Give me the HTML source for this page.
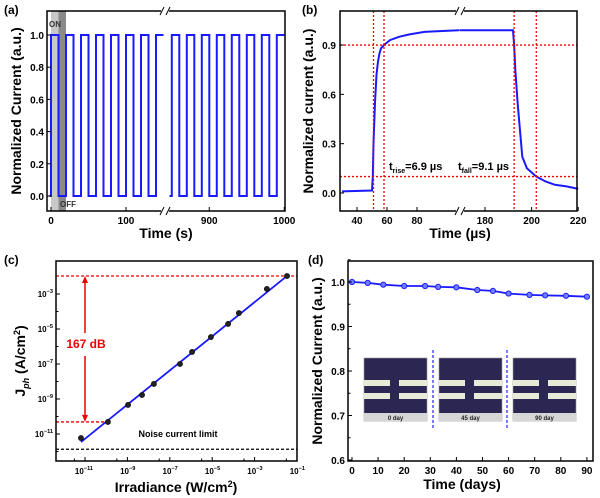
<!DOCTYPE html>
<html><head><meta charset="utf-8"><style>
body{margin:0;background:#fff;}
svg{display:block;font-family:"Liberation Sans",sans-serif;font-weight:bold;}
</style></head><body>
<svg id="s" width="600" height="498" viewBox="0 0 600 498" xmlns="http://www.w3.org/2000/svg"></svg>
<script>
// ---- data ----
const aPeriod = 20, aOn = 10;
const aLeftRange = [0, 152], aRightRange = [841, 1000];
const aRightPhase = 9;
const aTicksLeft = [0, 100], aTicksRight = [900, 1000];
const aYTicks = [0, 0.2, 0.4, 0.6, 0.8, 1.0];
const bRiseT = [30, 50, 50.5, 51, 52, 53, 54, 55, 56, 58, 62, 68, 75, 85, 95, 108];
const bRiseV = [0.01, 0.015, 0.1, 0.3, 0.55, 0.72, 0.8, 0.85, 0.88, 0.9, 0.93, 0.95, 0.965, 0.98, 0.985, 0.99];
const bFallT = [169, 192, 192.5, 193, 194, 195, 196, 198, 202, 206, 210, 215, 220];
const bFallV = [0.99, 0.99, 0.9, 0.75, 0.55, 0.38, 0.22, 0.15, 0.1, 0.07, 0.05, 0.04, 0.025];
const bVLines = [51, 58, 192.5, 202];
const bHLines = [0.9, 0.1];
const bYTicks = [0, 0.3, 0.6, 0.9];
const bXTicksL = [40, 60, 80], bXTicksR = [180, 200, 220];
const cLogE = [-11.19, -9.92, -8.97, -8.31, -7.75, -6.52, -5.95, -5.06, -4.25, -3.74, -2.42, -1.47];
const cLogJ = [-11.23, -10.31, -9.34, -8.77, -8.14, -7.0, -6.31, -5.46, -4.71, -4.09, -2.71, -1.97];
const cNoise = -11.87;
const cXTicks = [-11, -9, -7, -5, -3, -1];
const cYTicks = [-3, -5, -7, -9, -11];
const dDays = [0, 6, 12, 20, 28, 33, 40, 48, 54, 60, 68, 74, 82, 90];
const dVals = [1.0, 0.998, 0.994, 0.991, 0.991, 0.989, 0.988, 0.982, 0.98, 0.974, 0.971, 0.97, 0.969, 0.967];
const dYTicks = [0.6, 0.7, 0.8, 0.9, 1.0];
const dXTicks = [0, 10, 20, 30, 40, 50, 60, 70, 80, 90];
const dInsetLabels = ['0 day', '45 day', '90 day'];

const S = document.getElementById('s');
const NS = 'http://www.w3.org/2000/svg';
function el(tag, at, parent) {
  const e = document.createElementNS(NS, tag);
  for (const k in at) e.setAttribute(k, at[k]);
  (parent || S).appendChild(e);
  return e;
}
function txt(x, y, s, size, anchor, fill, name) {
  const t = el('text', {x: x, y: y, 'font-size': size, 'text-anchor': anchor || 'middle', fill: fill || '#000'});
  t.textContent = s;
  
  
  return t;
}
function sup(x, y, base, exp, size, name) {
  const t = el('text', {x: x, y: y, 'font-size': size, 'text-anchor': 'end'});
  
  
  t.appendChild(document.createTextNode(base));
  const ts = el('tspan', {dy: -4, 'font-size': size * 0.7}, t);
  ts.textContent = exp;
  return t;
}
function box(x0, y0, x1, y1, name) {
  const r = el('rect', {x: x0, y: y0, width: x1 - x0, height: y1 - y0, fill: 'none', stroke: '#000', 'stroke-width': 1.5});
  
  
}
function line(x1, y1, x2, y2, stroke, w, dash, name) {
  const l = el('line', {x1: x1, y1: y1, x2: x2, y2: y2, stroke: stroke, 'stroke-width': w});
  if (dash) l.setAttribute('stroke-dasharray', dash);
  
  
  return l;
}
function poly(pts, stroke, w, name) {
  const p = el('polyline', {points: pts.map(p => p[0].toFixed(1) + ',' + p[1].toFixed(1)).join(' '), fill: 'none', stroke: stroke, 'stroke-width': w});
  
  
}
function breakMark(x, y) {
  const g = el('g', {});
  
  
  el('rect', {x: x - 4, y: y - 4, width: 8, height: 8, fill: '#fff'}, g);
  el('line', {x1: x - 5, y1: y + 4, x2: x - 1, y2: y - 4, stroke: '#000', 'stroke-width': 1}, g);
  el('line', {x1: x + 1, y1: y + 4, x2: x + 5, y2: y - 4, stroke: '#000', 'stroke-width': 1}, g);
}

// ===== Panel (a) =====
(function () {
  const L = 47, R = 285, T = 11, B = 211, BR = 165;
  const yA = v => 196 - v * 161;
  const xA = t => t <= aLeftRange[1] ? 51 + t * 0.75 : BR + (t - aRightRange[0]) * 0.75;
  let r = el('rect', {x: xA(0), y: T, width: xA(aOn) - xA(0), height: B - T, fill: '#c8c8c8'});
   
  r = el('rect', {x: xA(aOn), y: T, width: xA(aPeriod) - xA(aOn), height: B - T, fill: '#8a8a8a'});
   
  txt(49, 27, 'ON', 8, 'start', '#333', 'on-label');
  txt(60, 207, 'OFF', 8, 'start', '#333', 'off-label');
  function seg(a, b, phase) {
    const pts = [];
    pts.push([xA(a), yA(0)]);
    for (let t = phase + Math.ceil((a - phase) / aPeriod) * aPeriod; t < b; t += aPeriod) {
      pts.push([xA(t), yA(0)], [xA(t), yA(1)]);
      const te = Math.min(t + aOn, b);
      pts.push([xA(te), yA(1)]);
      if (t + aOn < b) pts.push([xA(te), yA(0)]);
    }
    pts.push([xA(b), pts[pts.length - 1][1]]);
    return pts;
  }
  poly(seg(aLeftRange[0] - 2, 150, 0), '#1a1aff', 2, 'current-trace-left');
  poly(seg(aRightRange[0] + 6, 1000, aRightRange[0] + aRightPhase), '#1a1aff', 2, 'current-trace-right');
  box(L, T, R, B, 'plot-a-frame');
  aYTicks.forEach(v => {
    line(L, yA(v), L + 4, yA(v), '#000', 1, null, 'y-tick');
    txt(L - 3, yA(v) + 4, v.toFixed(1), 10, 'end', '#000', 'y-tick-label');
  });
  aTicksLeft.concat(aTicksRight).forEach(v => {
    line(xA(v), B, xA(v), B - 4, '#000', 1, null, 'x-tick');
    txt(xA(v), B + 13, String(v), 10, 'middle', '#000', 'x-tick-label');
  });
  breakMark(BR, T); breakMark(BR, B);
  txt(166, 238, 'Time (s)', 14, 'middle', '#000', 'x-axis-title-a');
  const yt = txt(0, 0, 'Normalized Current (a.u.)', 14, 'middle', '#000', 'y-axis-title-a');
  yt.setAttribute('transform', 'translate(21,111) rotate(-90)');
  txt(4, 14, '(a)', 12, 'start', '#000', 'panel-label-a');
})();

// ===== Panel (b) =====
(function () {
  const L = 340, R = 577, T = 11, B = 211, BR = 460;
  const yB = v => 193 - v * 164.4;
  const xB = t => t < 140 ? 357 + (t - 40) * 1.5 : 485 + (t - 180) * 2.33;
  poly(bRiseT.map((t, i) => [xB(t), yB(bRiseV[i])]), '#1a1aff', 2, 'rise-curve');
  poly(bFallT.map((t, i) => [xB(t), yB(bFallV[i])]), '#1a1aff', 2, 'fall-curve');
  bVLines.forEach(t => line(xB(t), T, xB(t), B, '#e00', 1.3, '2,2', 'time-marker-line'));
  bHLines.forEach(v => line(L, yB(v), R, yB(v), '#e00', 1.3, '2,2', 'level-marker-line'));
  box(L, T, R, B, 'plot-b-frame');
  bYTicks.forEach(v => {
    line(L, yB(v), L + 4, yB(v), '#000', 1, null, 'y-tick');
    txt(L - 4, yB(v) + 4, v.toFixed(1), 10, 'end', '#000', 'y-tick-label');
  });
  bXTicksL.concat(bXTicksR).forEach(v => {
    line(xB(v), B, xB(v), B - 4, '#000', 1, null, 'x-tick');
    txt(xB(v), B + 13, String(v), 10, 'middle', '#000', 'x-tick-label');
  });
  breakMark(BR, T); breakMark(BR, B);
  let t = txt(389, 170, 't', 11, 'start', '#000', 'rise-time-label');
  let ts = el('tspan', {dy: 3, 'font-size': 7}, t); ts.textContent = 'rise';
  ts = el('tspan', {dy: -3}, t); ts.textContent = '=6.9 µs';
  t = txt(458, 170, 't', 11, 'start', '#000', 'fall-time-label');
  ts = el('tspan', {dy: 3, 'font-size': 7}, t); ts.textContent = 'fall';
  ts = el('tspan', {dy: -3}, t); ts.textContent = '=9.1 µs';
  txt(460, 238, 'Time (µs)', 14, 'middle', '#000', 'x-axis-title-b');
  const yt = txt(0, 0, 'Normalized current (a.u.)', 14, 'middle', '#000', 'y-axis-title-b');
  yt.setAttribute('transform', 'translate(313,111) rotate(-90)');
  txt(302, 14, '(b)', 12, 'start', '#000', 'panel-label-b');
})();

// ===== Panel (c) =====
(function () {
  const L = 56, R = 297, T = 261, B = 461;
  const xC = lg => 85 + (lg + 11) * 21.2;
  const yC = lg => 294 - (lg + 3) * 17.5;
  const n = cLogE.length;
  line(L, yC(cLogJ[n - 1]), R, yC(cLogJ[n - 1]), '#e00', 1.3, '3,2', 'max-current-line');
  line(L, yC(cLogJ[1]), xC(cLogE[1]), yC(cLogJ[1]), '#e00', 1.3, '3,2', 'min-current-line');
  line(L, yC(cNoise), R, yC(cNoise), '#000', 1.3, '3,2', 'noise-limit-line');
  const ax = 85, ay1 = yC(cLogJ[n - 1]), ay2 = yC(cLogJ[1]);
  line(ax, ay1 + 4, ax, 333, '#e00', 1.5, null, 'range-arrow-upper');
  line(ax, 356, ax, ay2 - 4, '#e00', 1.5, null, 'range-arrow-lower');
  let p = el('polygon', {points: `${ax - 3},${ay1 + 7} ${ax + 3},${ay1 + 7} ${ax},${ay1}`, fill: '#e00'});
   
  p = el('polygon', {points: `${ax - 3},${ay2 - 7} ${ax + 3},${ay2 - 7} ${ax},${ay2}`, fill: '#e00'});
   
  txt(86, 348, '167 dB', 12, 'middle', '#e00', 'dynamic-range-label');
  line(xC(cLogE[0]), yC(cLogJ[0]) + 4, xC(cLogE[n - 1]), yC(cLogJ[n - 1]), '#1a1aff', 1.8, null, 'fit-line');
  cLogE.forEach((e, i) => {
    const c = el('circle', {cx: xC(e), cy: yC(cLogJ[i]), r: 2.6, fill: '#222', stroke: '#000', 'stroke-width': 0.6});
    
    
  });
  txt(178, 437, 'Noise current limit', 9, 'middle', '#000', 'noise-label');
  box(L, T, R, B, 'plot-c-frame');
  cYTicks.forEach(v => {
    line(L, yC(v), L + 4, yC(v), '#000', 1, null, 'y-tick');
    line(L, yC(v - 1), L + 2.5, yC(v - 1), '#000', 1, null, 'y-minor-tick');
    sup(L - 3, yC(v) + 3, '10', String(v).replace('-', '−'), 8, 'y-tick-label');
  });
  cXTicks.forEach(v => {
    line(xC(v), B, xC(v), B - 4, '#000', 1, null, 'x-tick');
    line(xC(v) - 10.6, B, xC(v) - 10.6, B - 2.5, '#000', 1, null, 'x-minor-tick');
    sup(xC(v) + 8, B + 13, '10', String(v).replace('-', '−'), 8, 'x-tick-label');
  });
  let t = txt(176, 492, 'Irradiance (W/cm', 14, 'middle', '#000', 'x-axis-title-c');
  let ts = el('tspan', {dy: -5, 'font-size': 9}, t); ts.textContent = '2';
  ts = el('tspan', {dy: 5}, t); ts.textContent = ')';
  const yt = txt(0, 0, 'J', 14, 'middle', '#000', 'y-axis-title-c');
  ts = el('tspan', {dy: 4, 'font-size': 9, 'font-style': 'italic'}, yt); ts.textContent = 'ph';
  ts = el('tspan', {dy: -4}, yt); ts.textContent = ' (A/cm';
  ts = el('tspan', {dy: -5, 'font-size': 9}, yt); ts.textContent = '2';
  ts = el('tspan', {dy: 5}, yt); ts.textContent = ')';
  yt.setAttribute('transform', 'translate(25,361) rotate(-90)');
  txt(4, 264, '(c)', 12, 'start', '#000', 'panel-label-c');
})();

// ===== Panel (d) =====
(function () {
  const L = 348, R = 593, T = 261, B = 461;
  const xD = d => 352 + d * 2.61;
  const yD = v => 282 + (1.0 - v) * 445;
  const insX = [364, 439, 513];
  insX.forEach((x, i) => {
    const g = el('g', {});
    
    
    el('rect', {x: x, y: 358, width: 63, height: 63, fill: '#2b2752', stroke: '#999', 'stroke-width': 0.6}, g);
    el('rect', {x: x, y: 380, width: 26, height: 6, fill: '#e8ead8'}, g);
    el('rect', {x: x + 35, y: 380, width: 28, height: 6, fill: '#e8ead8'}, g);
    el('rect', {x: x, y: 393, width: 26, height: 6, fill: '#e8ead8'}, g);
    el('rect', {x: x + 35, y: 393, width: 28, height: 6, fill: '#e8ead8'}, g);
    el('rect', {x: x, y: 413, width: 63, height: 8, fill: '#d6d6d6'}, g);
    const t = el('text', {x: x + 31.5, y: 420, 'font-size': 6, 'text-anchor': 'middle', fill: '#222'}, g);
    t.textContent = dInsetLabels[i];
  });
  line(433, 350, 433, 428, '#3333ff', 1.3, '3,2', 'inset-divider');
  line(507, 350, 507, 428, '#3333ff', 1.3, '3,2', 'inset-divider');
  poly(dDays.map((d, i) => [xD(d), yD(dVals[i])]), '#1a1aff', 1.8, 'stability-line');
  dDays.forEach((d, i) => {
    const c = el('circle', {cx: xD(d), cy: yD(dVals[i]), r: 2.6, fill: '#6f7fff', stroke: '#1a1aff', 'stroke-width': 1});
    
    
  });
  box(L, T, R, B, 'plot-d-frame');
  dYTicks.forEach(v => {
    line(L, yD(v), L + 4, yD(v), '#000', 1, null, 'y-tick');
    line(L, yD(v + 0.05), L + 2.5, yD(v + 0.05), '#000', 1, null, 'y-minor-tick');
    txt(L - 3, yD(v) + 4, v.toFixed(1), 10, 'end', '#000', 'y-tick-label');
  });
  dXTicks.forEach(v => {
    line(xD(v), B, xD(v), B - 4, '#000', 1, null, 'x-tick');
    txt(xD(v), B + 13, String(v), 10, 'middle', '#000', 'x-tick-label');
  });
  txt(462, 489, 'Time (days)', 14, 'middle', '#000', 'x-axis-title-d');
  const yt = txt(0, 0, 'Normalized Current (a.u.)', 14, 'middle', '#000', 'y-axis-title-d');
  yt.setAttribute('transform', 'translate(322,361) rotate(-90)');
  txt(308, 264, '(d)', 12, 'start', '#000', 'panel-label-d');
})();
</script>
</body></html>
